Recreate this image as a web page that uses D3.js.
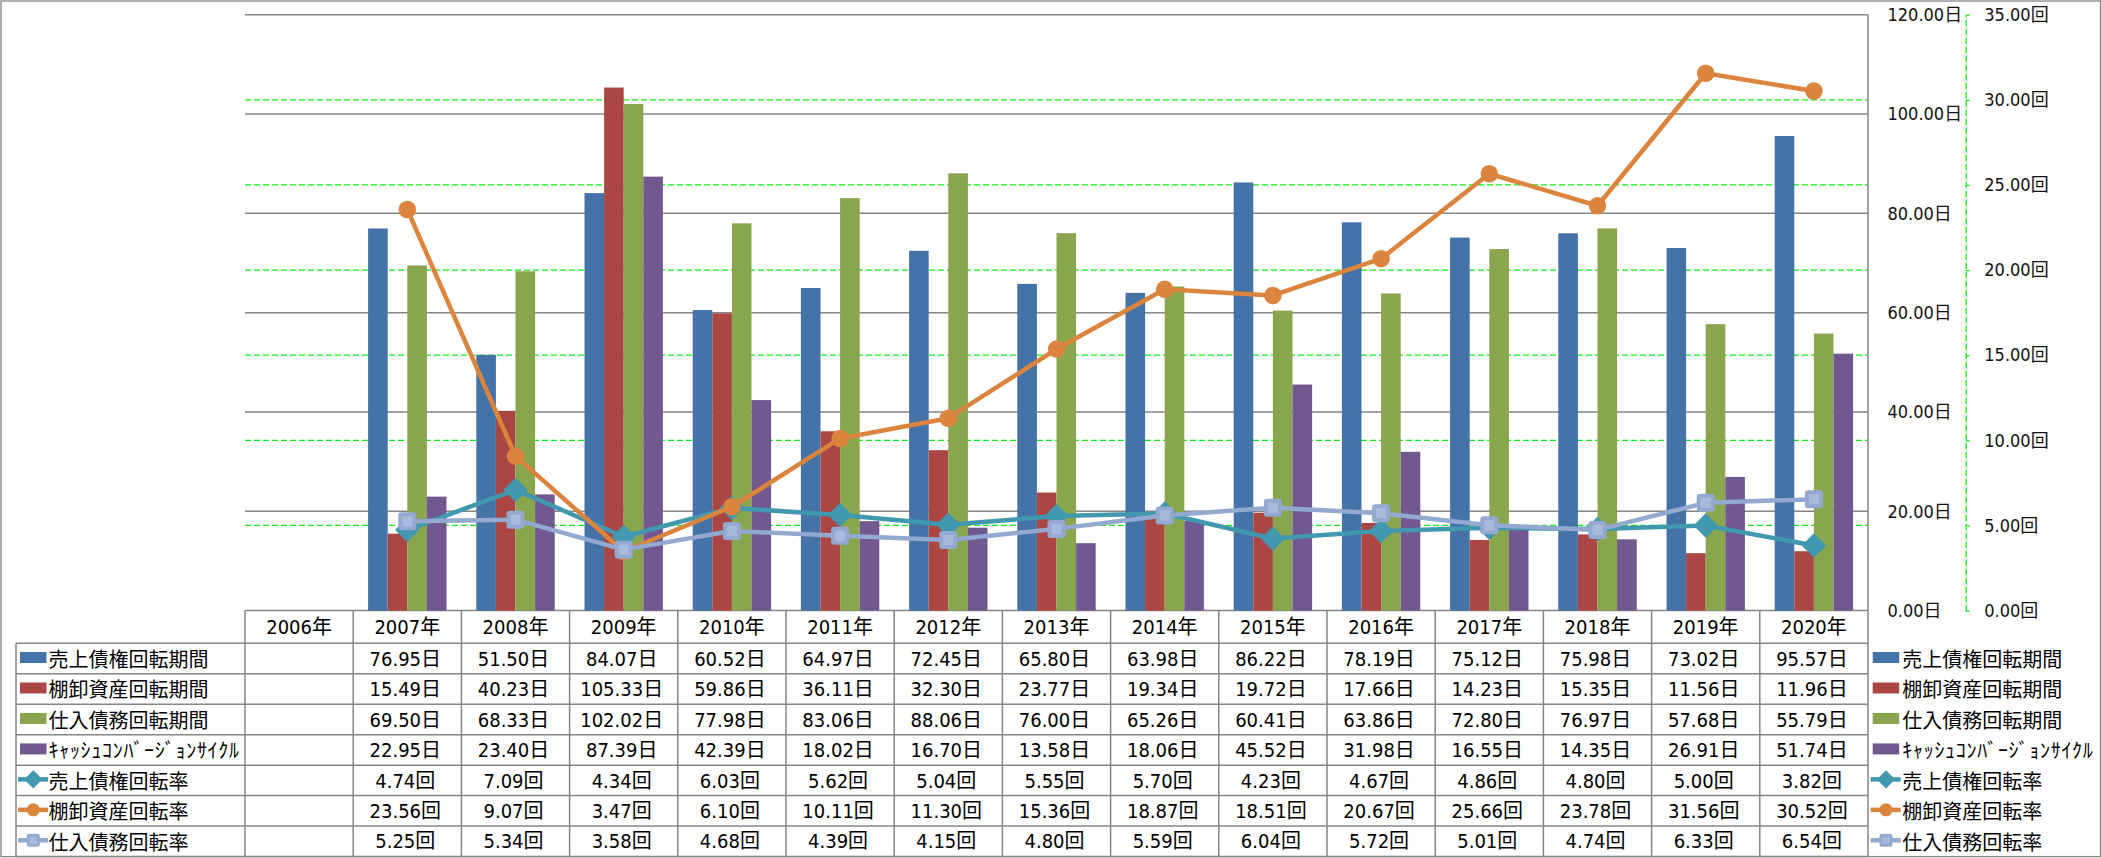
<!DOCTYPE html>
<html><head><meta charset="utf-8">
<script src="https://cdn.jsdelivr.net/npm/d3@7"></script>
<style>body{margin:0;background:#fff} svg{display:block}</style>
</head><body><svg id="c" width="2101" height="858"></svg>
<script>
// ---------- DATA ----------
const years = ["2006年","2007年","2008年","2009年","2010年","2011年","2012年","2013年","2014年","2015年","2016年","2017年","2018年","2019年","2020年"];
const arDays   = [null,76.95,51.50,84.07,60.52,64.97,72.45,65.80,63.98,86.22,78.19,75.12,75.98,73.02,95.57];
const invDays  = [null,15.49,40.23,105.33,59.86,36.11,32.30,23.77,19.34,19.72,17.66,14.23,15.35,11.56,11.96];
const apDays   = [null,69.50,68.33,102.02,77.98,83.06,88.06,76.00,65.26,60.41,63.86,72.80,76.97,57.68,55.79];
const cccDays  = [null,22.95,23.40,87.39,42.39,18.02,16.70,13.58,18.06,45.52,31.98,16.55,14.35,26.91,51.74];
const arTurn   = [null,4.74,7.09,4.34,6.03,5.62,5.04,5.55,5.70,4.23,4.67,4.86,4.80,5.00,3.82];
const invTurn  = [null,23.56,9.07,3.47,6.10,10.11,11.30,15.36,18.87,18.51,20.67,25.66,23.78,31.56,30.52];
const apTurn   = [null,5.25,5.34,3.58,4.68,4.39,4.15,4.80,5.59,6.04,5.72,5.01,4.74,6.33,6.54];
const seriesNames = ["売上債権回転期間","棚卸資産回転期間","仕入債務回転期間","ｷｬｯｼｭｺﾝﾊﾞｰｼﾞｮﾝｻｲｸﾙ","売上債権回転率","棚卸資産回転率","仕入債務回転率"];
const leftTicks = [0,20,40,60,80,100,120];
const rightTicks = [0,5,10,15,20,25,30,35];
const daySuffix = "日", turnSuffix = "回";

// ---------- LAYOUT ----------
const X0 = 245, X1 = 1868, YT = 14.7, YB = 610.6;
const rowH = 30.46, rowTop = 643.3, tableLeft = 16;
const colors = ["#4572A7","#AA4643","#89A54E","#71588F","#4198AF","#DB843D","#93A9CF"];
const markers = ["diamond","circle","square"];
const GREY = "#868686", GREEN = "#11ee11";
const tableFont = "'Liberation Sans Narrow','DejaVu Sans Condensed','Noto Sans CJK JP',sans-serif";
const cjkFont = "'Noto Sans CJK JP',sans-serif";
const axisFont = "'DejaVu Sans Condensed','DejaVu Sans','Noto Sans CJK JP',sans-serif";

const svg = d3.select("#c");
svg.append("rect").attr("width",2101).attr("height",858).attr("fill","#fff");

const x = d3.scaleBand().domain(years).range([X0,X1]);
const y = d3.scaleLinear().domain([0,120]).range([YB,YT]);
const y2 = d3.scaleLinear().domain([0,35]).range([YB,YT]);

const barData = [arDays,invDays,apDays,cccDays];
const lineData = [arTurn,invTurn,apTurn];
const xs = d3.scaleBand().domain(d3.range(barData.length)).range([-39.2,39.2]);
const cx = (i)=> x(years[i]) + x.bandwidth()/2;

// gridlines
svg.append("g").selectAll("line").data(rightTicks.filter(d=>d>0 && d<35)).join("line")
  .attr("x1",X0).attr("x2",X1).attr("y1",d=>y2(d)).attr("y2",d=>y2(d))
  .attr("stroke",GREEN).attr("stroke-width",1.3).attr("stroke-dasharray","6,3");
svg.append("g").selectAll("line").data(leftTicks).join("line")
  .attr("x1",X0).attr("x2",X1).attr("y1",d=>y(d)).attr("y2",d=>y(d))
  .attr("stroke",GREY).attr("stroke-width",1.5);
svg.append("line").attr("x1",X1).attr("x2",X1).attr("y1",YT).attr("y2",YB)
  .attr("stroke",GREY).attr("stroke-width",1.5);

// bars
barData.forEach((vals,s)=>{
  svg.append("g").selectAll("rect").data(vals.map((v,i)=>({v,i})).filter(d=>d.v!=null)).join("rect")
    .attr("x",d=>cx(d.i)+xs(s)).attr("width",xs.bandwidth())
    .attr("y",d=>y(d.v)).attr("height",d=>y(0)-y(d.v))
    .attr("fill",colors[s]);
});

function drawMarker(g, type, px, py, size, color){
  if(type==="circle"){
    g.append("circle").attr("cx",px).attr("cy",py).attr("r",size*0.5).attr("fill",color);
  } else if(type==="diamond"){
    const h=size*0.62;
    g.append("path").attr("d",`M${px},${py-h}L${px+h},${py}L${px},${py+h}L${px-h},${py}Z`)
      .attr("fill",color).attr("stroke",color).attr("stroke-width",1.5).attr("stroke-linejoin","round");
  } else {
    const s=size;
    g.append("rect").attr("x",px-s/2).attr("y",py-s/2).attr("width",s).attr("height",s)
      .attr("rx",s*0.18).attr("fill",color);
    g.append("rect").attr("x",px-s*0.28).attr("y",py-s*0.28).attr("width",s*0.56).attr("height",s*0.56)
      .attr("fill","#a9bbdc");
  }
}

// lines
lineData.forEach((vals,s)=>{
  const color = colors[4+s];
  const g = svg.append("g");
  const pts = vals.map((v,i)=>({v,i})).filter(d=>d.v!=null);
  g.append("path").datum(pts)
    .attr("d",d3.line().x(d=>cx(d.i)).y(d=>y2(d.v)))
    .attr("fill","none").attr("stroke",color).attr("stroke-width",4.5)
    .attr("stroke-linejoin","round").attr("stroke-linecap","round");
  pts.forEach(d=>drawMarker(g, markers[s], cx(d.i), y2(d.v), s===1?17.5:18, color));
});

// primary axis (days) on the right
const axL = d3.axisRight(y).tickValues(leftTicks).tickSize(0).tickPadding(19.5)
  .tickFormat(d=>d3.format(".2f")(d)+daySuffix);
const gL = svg.append("g").attr("transform",`translate(${X1},0)`).call(axL);
gL.select(".domain").remove();
gL.selectAll("text").attr("font-family",axisFont).attr("font-size",18).attr("fill","#111").style("font-stretch","condensed");

// secondary axis (times)
const axR = d3.axisRight(y2).tickValues(rightTicks).tickSize(4).tickSizeOuter(0).tickPadding(14.6)
  .tickFormat(d=>d3.format(".2f")(d)+turnSuffix);
const gR = svg.append("g").attr("transform",`translate(1965.7,0)`).call(axR);
gR.select(".domain").attr("stroke",GREEN).attr("stroke-width",1.3).attr("stroke-dasharray","6,3");
gR.selectAll(".tick line").attr("stroke",GREEN).attr("stroke-width",1.3);
gR.selectAll("text").attr("font-family",axisFont).attr("font-size",18).attr("fill","#111").style("font-stretch","condensed");

// ---------- DATA TABLE ----------
const tb = svg.append("g");
const rowsAll = [arDays,invDays,apDays,cccDays,arTurn,invTurn,apTurn];
const tableBottom = rowTop + rowH*rowsAll.length;
tb.selectAll("line.v").data(d3.range(years.length+1)).join("line").attr("class","v")
  .attr("x1",i=>X0+i*x.bandwidth()).attr("x2",i=>X0+i*x.bandwidth())
  .attr("y1",YB).attr("y2",tableBottom).attr("stroke",GREY).attr("stroke-width",1.5);
tb.append("line").attr("x1",tableLeft).attr("x2",tableLeft).attr("y1",rowTop).attr("y2",tableBottom)
  .attr("stroke",GREY).attr("stroke-width",1.5);
tb.selectAll("line.h").data(d3.range(rowsAll.length+1)).join("line").attr("class","h")
  .attr("x1",tableLeft).attr("x2",X1).attr("y1",k=>rowTop+k*rowH).attr("y2",k=>rowTop+k*rowH)
  .attr("stroke",GREY).attr("stroke-width",1.5);
tb.selectAll("text.yr").data(years).join("text").attr("class","yr")
  .attr("x",d=>x(d)+x.bandwidth()/2).attr("y",(YB+rowTop)/2).attr("dy","0.36em")
  .attr("text-anchor","middle").attr("font-family",tableFont).attr("font-size",20).attr("fill","#000")
  .text(d=>d);
rowsAll.forEach((vals,r)=>{
  const suf = r<4?daySuffix:turnSuffix;
  tb.append("g").selectAll("text").data(vals.map((v,i)=>({v,i})).filter(d=>d.v!=null)).join("text")
    .attr("x",d=>cx(d.i)-2).attr("y",rowTop+rowH*(r+0.5)).attr("dy","0.36em")
    .attr("text-anchor","middle").attr("font-family",tableFont).attr("font-size",20).attr("fill","#000")
    .text(d=>d3.format(".2f")(d.v)+suf);
});

// legend keys (table left + right legend)
function legendKey(g, r, kx){
  const cy = rowTop + rowH*(r+0.5) - 1;
  if(r<4){
    g.append("rect").attr("x",kx).attr("y",cy-5.5).attr("width",26.5).attr("height",11).attr("fill",colors[r]);
  } else {
    const s=r-4;
    g.append("line").attr("x1",kx-2).attr("x2",kx+28).attr("y1",cy).attr("y2",cy)
      .attr("stroke",colors[r]).attr("stroke-width",4.5);
    drawMarker(g, markers[s], kx+13.3, cy, 13, colors[r]);
  }
}
const lg = svg.append("g");
seriesNames.forEach((n,r)=>{
  legendKey(lg, r, 20);
  legendKey(lg, r, 1872.7);
  [48.5, 1902.3].forEach(tx=>{
    lg.append("text").attr("x",tx).attr("y",rowTop+rowH*(r+0.5)).attr("dominant-baseline","central")
      .attr("font-family",cjkFont).attr("font-size",20).attr("fill","#000")
      .attr("letter-spacing", r===3 ? 0.7 : 0).text(n);
  });
});

// outer border
svg.append("rect").attr("x",1).attr("y",1).attr("width",2099.5).attr("height",855.6)
  .attr("fill","none").attr("stroke",GREY).attr("stroke-width",1.3);
</script></body></html>
